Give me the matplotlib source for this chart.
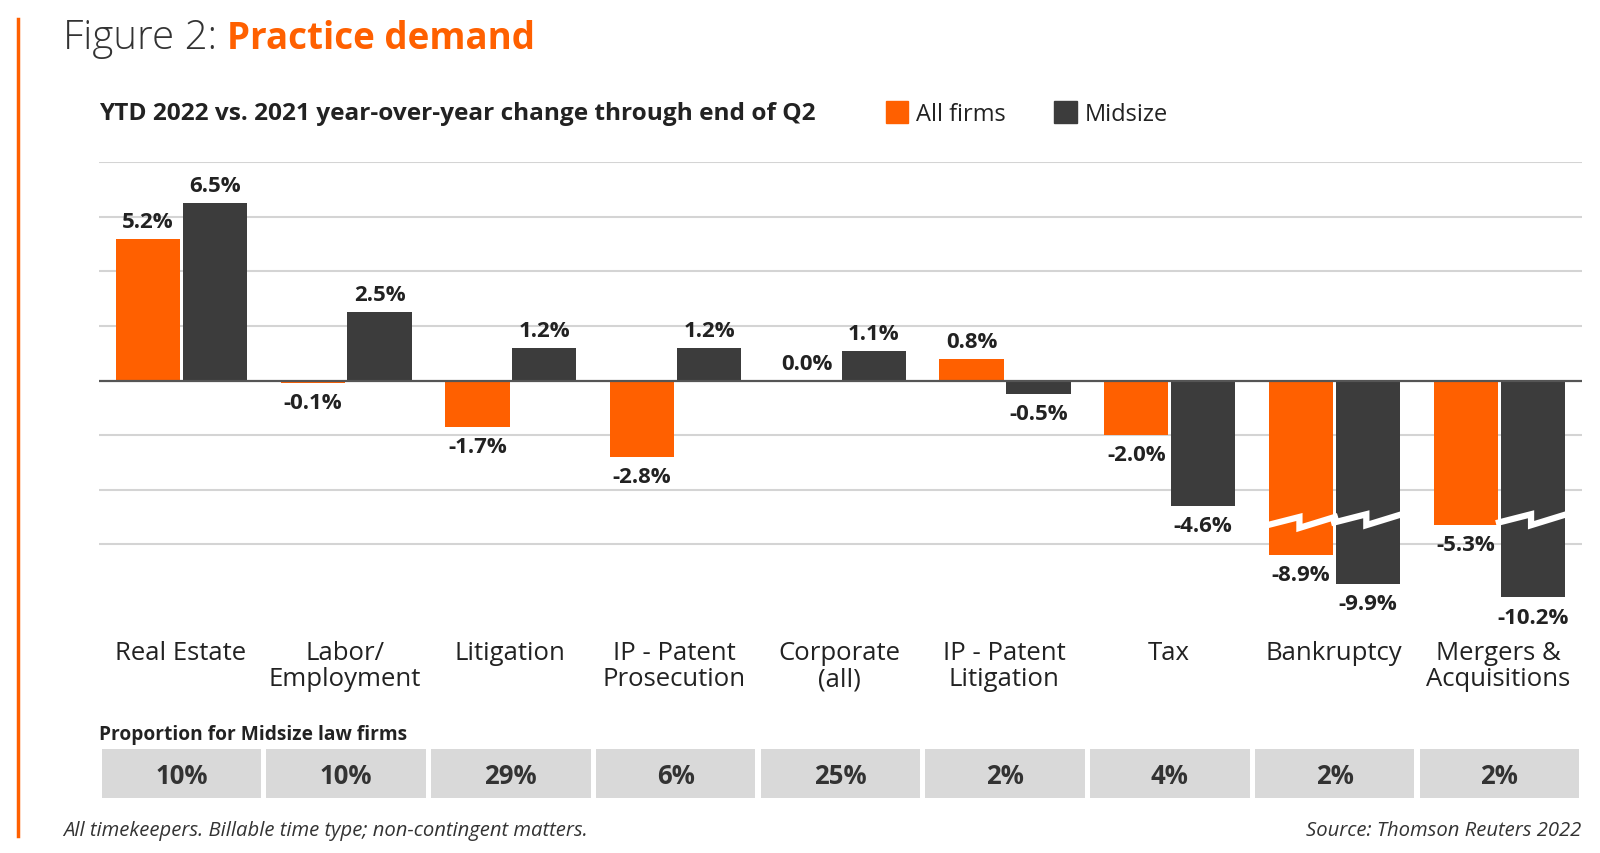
import matplotlib
matplotlib.use('Agg')
import matplotlib.pyplot as plt

plt.rcParams['font.family'] = ['Open Sans', 'DejaVu Sans']

# Data
categories = ['Real Estate', 'Labor/\nEmployment', 'Litigation', 'IP - Patent\nProsecution',
              'Corporate\n(all)', 'IP - Patent\nLitigation', 'Tax', 'Bankruptcy',
              'Mergers &\nAcquisitions']
all_firms = [5.2, -0.1, -1.7, -2.8, 0.0, 0.8, -2.0, -8.9, -5.3]
midsize = [6.5, 2.5, 1.2, 1.2, 1.1, -0.5, -4.6, -9.9, -10.2]
# bars drawn with a broken axis are shown shorter than their value
all_firms_shown = [5.2, -0.1, -1.7, -2.8, 0.0, 0.8, -2.0, -6.4, -5.3]
midsize_shown = [6.5, 2.5, 1.2, 1.2, 1.1, -0.5, -4.6, -7.45, -7.95]
all_firms_broken = [False] * 7 + [True, False]
midsize_broken = [False] * 7 + [True, True]
proportion = ['10%', '10%', '29%', '6%', '25%', '2%', '4%', '2%', '2%']

ORANGE = '#ff6000'
DARK = '#3c3c3c'
TEXT = '#222222'
GRID = '#d4d4d4'

# layout measured on a 1568 x 837 grid, output is 1600 x 854
W, H = 1568, 837


def fx(x):
    return x / W


def fy(y):
    return 1 - y / H


fig = plt.figure(figsize=(16, 8.54), dpi=100)

# main bar axes
ax = fig.add_axes([fx(97), fy(620), fx(1550) - fx(97), fy(160) - fy(620)])
ax.set_xlim(-0.5, len(categories) - 0.5)
ax.set_ylim(-9.2, 8)
for v in [8, 6, 4, 2, -2, -4, -6]:
    ax.axhline(v, color=GRID, lw=1.5, zorder=0)

xs = list(range(len(categories)))
off = 0.203
bw = 0.39
ax.bar([x - off for x in xs], all_firms_shown, width=bw, color=ORANGE, zorder=2)
ax.bar([x + off for x in xs], midsize_shown, width=bw, color=DARK, zorder=2)
ax.axhline(0, color='#555555', lw=1.6, zorder=3)


def label(x, val, shown):
    txt = f'{val:.1f}%'
    if shown >= 0:
        ax.annotate(txt, (x, shown), xytext=(0, 5), textcoords='offset points',
                    ha='center', va='bottom', fontsize=16, fontweight='bold', color=TEXT)
    else:
        ax.annotate(txt, (x, shown), xytext=(0, -6.5), textcoords='offset points',
                    ha='center', va='top', fontsize=16, fontweight='bold', color=TEXT)


def zigzag(x, y):
    # white break mark across a bar
    h = bw / 2 + 0.01
    ax.plot([x - h, x - 0.01, x - 0.01, x + h], [y - 0.25, y + 0.05, y - 0.35, y + 0.05],
            color='white', lw=4.5, solid_joinstyle='miter', zorder=4)


for i in xs:
    label(i - off, all_firms[i], all_firms_shown[i])
    label(i + off, midsize[i], midsize_shown[i])
    if all_firms_broken[i]:
        zigzag(i - off, -5.05)
    if midsize_broken[i]:
        zigzag(i + off, -4.95)

ax.axis('off')

# category labels
for i, c in enumerate(categories):
    fig.text(fx(96 + (i + 0.5) * (1549 - 96) / 9), fy(628), c, ha='center', va='top',
             fontsize=18.5, color=TEXT, linespacing=1.08)

# proportion row
ax2 = fig.add_axes([fx(97), fy(783), fx(1550) - fx(97), fy(735) - fy(783)])
ax2.set_xlim(-0.5, len(categories) - 0.5)
ax2.set_ylim(0, 1)
ax2.bar(xs, [1] * len(xs), width=0.968, color='#d9d9d9')
for i, p in enumerate(proportion):
    ax2.text(i, 0.46, p, ha='center', va='center', fontsize=18.5, fontweight='bold', color='#333333')
ax2.axis('off')
fig.text(fx(97), fy(720), 'Proportion for Midsize law firms', ha='left', va='center',
         fontsize=13.8, fontweight='bold', color=TEXT)

# title and subtitle
fig.text(fx(62), fy(38), 'Figure 2:', ha='left', va='center', fontsize=29,
         fontweight='light', color='#333333')
fig.text(fx(222), fy(38), 'Practice demand', ha='left', va='center', fontsize=26.5,
         fontweight='bold', color=ORANGE)
fig.text(fx(97), fy(112), 'YTD 2022 vs. 2021 year-over-year change through end of Q2',
         ha='left', va='center', fontsize=17.6, fontweight='bold', color=TEXT)

# legend
fig.patches.append(plt.Rectangle((fx(868), fy(122)), fx(22), fy(100) - fy(122),
                                 transform=fig.transFigure, color=ORANGE))
fig.text(fx(898), fy(113), 'All firms', ha='left', va='center', fontsize=17, color=TEXT)
fig.patches.append(plt.Rectangle((fx(1033), fy(122)), fx(22), fy(100) - fy(122),
                                 transform=fig.transFigure, color=DARK))
fig.text(fx(1063), fy(113), 'Midsize', ha='left', va='center', fontsize=17, color=TEXT)

# footer
fig.text(fx(62), fy(814), 'All timekeepers. Billable time type; non-contingent matters.',
         ha='left', va='center', fontsize=14.6, style='italic', color='#333333')
fig.text(fx(1550), fy(814), 'Source: Thomson Reuters 2022', ha='right', va='center',
         fontsize=14.6, style='italic', color='#333333')

# orange rule on the left
fig.add_artist(plt.Line2D([fx(18), fx(18)], [fy(20), fy(820)], color=ORANGE, lw=2.5,
                          transform=fig.transFigure))

fig.savefig('out.png', dpi=100, facecolor='white')
